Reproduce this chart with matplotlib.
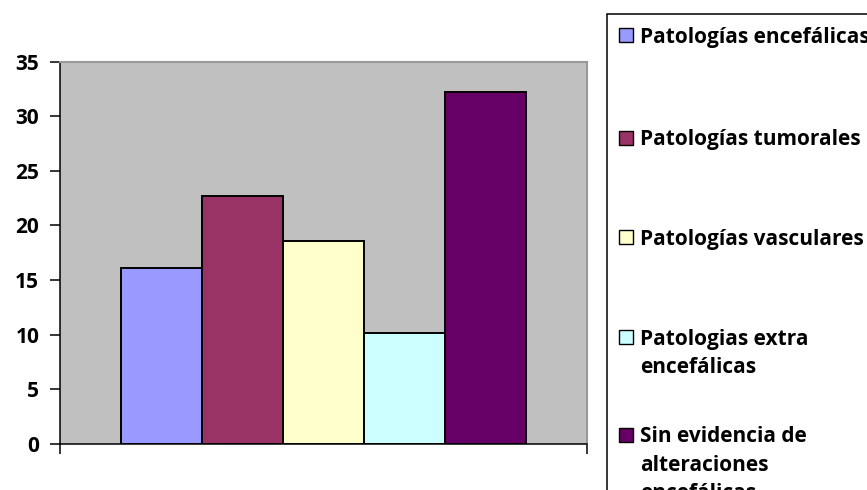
import numpy as np
import matplotlib.pyplot as plt
from matplotlib.patches import Rectangle

# Data
categories = ['Patologías encefálicas', 'Patologías tumorales', 'Patologías vasculares',
              'Patologias extra\nencefálicas', 'Sin evidencia de\nalteraciones\nencefálicas']
values = [16.1, 22.7, 18.6, 10.2, 32.2]
colors = ['#9999FF', '#993366', '#FFFFCC', '#CCFFFF', '#660066']
yticks = [0, 5, 10, 15, 20, 25, 30, 35]

W, H = 867, 490
plt.rcParams['font.family'] = ['Open Sans', 'DejaVu Sans']
plt.rcParams['font.weight'] = 'bold'
fs = 15

fig = plt.figure(figsize=(W / 100, H / 100), dpi=100)

def fx(px):
    return px / W

def fy(py):
    return 1 - py / H

# plot area in pixels: left 60, right 587, top 61.5, bottom 444
ax = fig.add_axes([fx(60), fy(444), fx(587) - fx(60), fy(61.5) - fy(444)])
ax.set_facecolor('#C0C0C0')

bw = 0.154
xpos = 0.5 + (np.arange(len(values)) - (len(values) - 1) / 2) * bw
ax.bar(xpos, values, width=bw, color=colors, edgecolor='black', linewidth=1.4, zorder=3)

ax.set_xlim(0, 1)
ax.set_ylim(0, 35)
ax.set_yticks(yticks)
ax.set_yticklabels([str(t) for t in yticks], fontsize=fs, fontweight='bold')
ax.set_xticks([0, 1])
ax.set_xticklabels([])
ax.tick_params(axis='y', direction='out', length=7, width=1.1, pad=8)
ax.tick_params(axis='x', direction='out', length=7, width=1.1)

ax.spines['left'].set_color('black')
ax.spines['left'].set_linewidth(1.1)
ax.spines['bottom'].set_color('black')
ax.spines['bottom'].set_linewidth(1.1)
for s in ['top', 'right']:
    ax.spines[s].set_color('#999999')
    ax.spines[s].set_linewidth(1.5)

# Legend box, cut off by the right and bottom edges like the reference
fig.patches.append(Rectangle((fx(607), fy(500)), fx(300), fy(14) - fy(500),
                             transform=fig.transFigure, facecolor='white',
                             edgecolor='black', linewidth=1.1, zorder=0))

first_line = [35, 138, 237, 337, 435]
line_gap = 28
sq = 14
for lab, col, yc in zip(categories, colors, first_line):
    fig.patches.append(Rectangle((fx(619), fy(yc + sq / 2)), fx(sq), fy(0) - fy(sq),
                                 transform=fig.transFigure, facecolor=col,
                                 edgecolor='black', linewidth=1.0))
    for k, line in enumerate(lab.split('\n')):
        fig.text(fx(640), fy(yc + 7.5 + k * line_gap), line, fontsize=fs,
                 fontweight='bold', ha='left', va='baseline')

fig.savefig('out.png', dpi=100)
